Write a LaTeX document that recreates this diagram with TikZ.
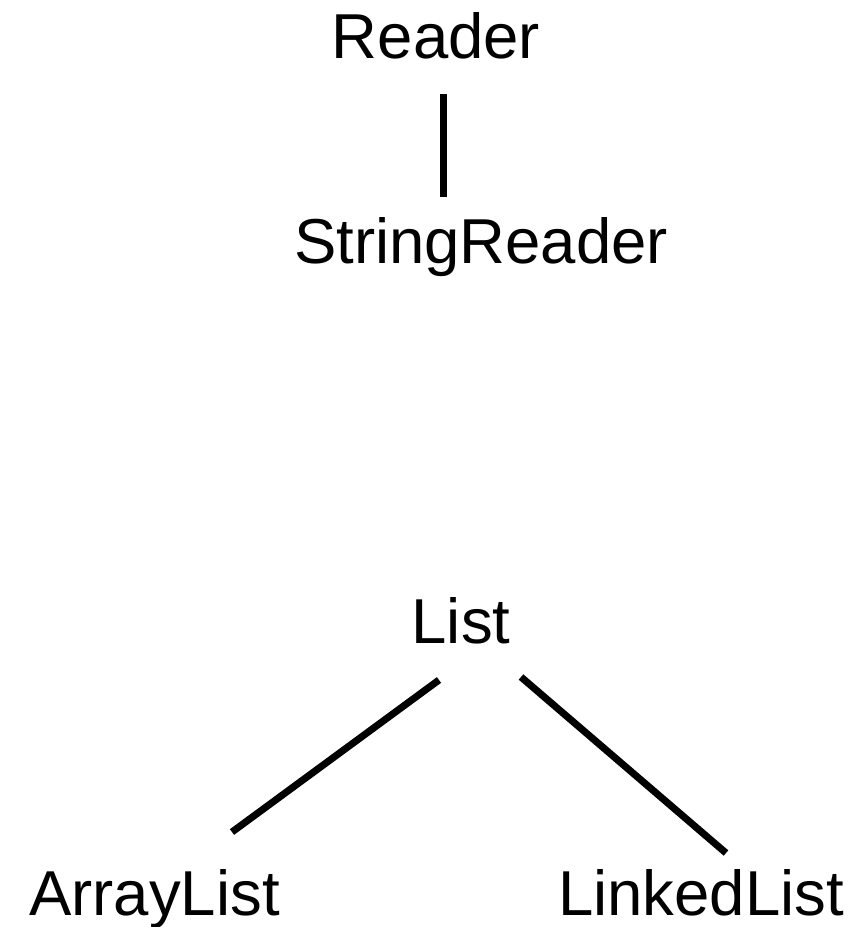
\documentclass[tikz,border=0pt]{standalone}
\usepackage{fontspec}
\setmainfont{Liberation Sans}
\begin{document}
\begin{tikzpicture}[x=0.75pt,y=-0.75pt,
  lbl/.style={anchor=base,inner sep=0pt,font=\fontsize{47.6pt}{57pt}\selectfont},
  link/.style={line width=5.3pt,black}]
\useasboundingbox (0,0) rectangle (866,927);
\node[lbl] (Reader) at (436,59) {Reader};
\node[lbl] (StringReader) at (481,263) {StringReader};
\node[lbl] (List) at (461,643) {List};
\node[lbl] (ArrayList) at (154.5,915) {ArrayList};
\node[lbl] (LinkedList) at (701,915) {LinkedList};
\draw[link] ([shift={(7.5,35)}]Reader.base) -- ([shift={(-37.5,-66)}]StringReader.base);
\draw[link] ([shift={(-22,37)}]List.base) -- ([shift={(77.5,-83)}]ArrayList.base);
\draw[link] ([shift={(60,34)}]List.base) -- ([shift={(25,-62)}]LinkedList.base);
\end{tikzpicture}
\end{document}
